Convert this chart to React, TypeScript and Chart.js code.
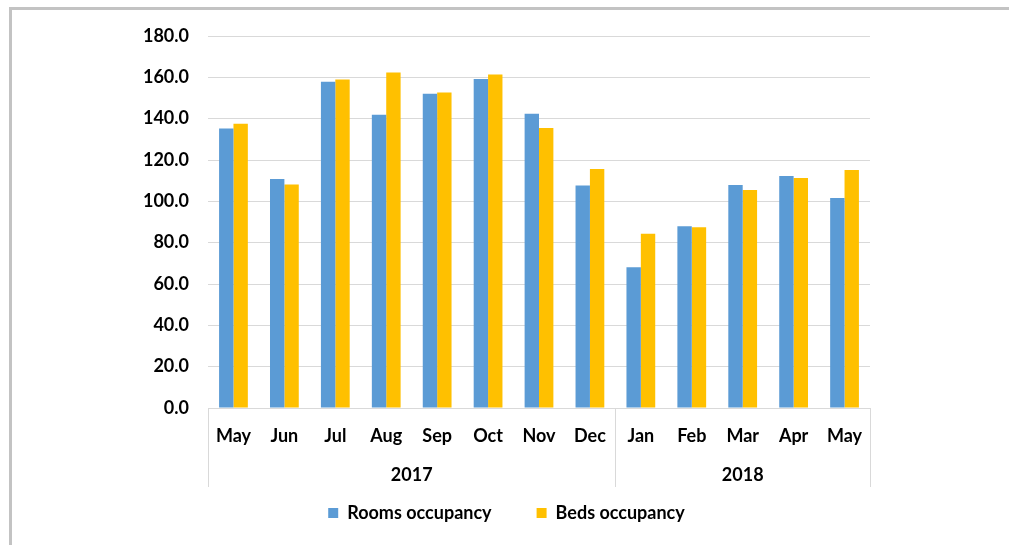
import React, { useEffect, useRef } from "react";
import { Chart, registerables } from "chart.js";

Chart.register(...registerables);

const months = ["May", "Jun", "Jul", "Aug", "Sep", "Oct", "Nov", "Dec", "Jan", "Feb", "Mar", "Apr", "May"];
const years = ["2017", "2018"];
const yearSpans = [8, 5];
const roomsOccupancy = [135.3, 110.8, 157.9, 141.9, 152.1, 159.2, 142.4, 107.7, 68.1, 87.9, 107.9, 112.3, 101.6];
const bedsOccupancy = [137.6, 108.1, 158.9, 162.3, 152.7, 161.4, 135.5, 115.6, 84.3, 87.4, 105.5, 111.3, 115.2];
const seriesNames = ["Rooms occupancy", "Beds occupancy"];

const FONT_FAMILY = "Lato, 'Open Sans', sans-serif";
const FONT_SIZE = 18;
const GRID_COLOR = "#d9d9d9";

const PAD_LEFT = 4;
const PLOT_LEFT = 208;
const PLOT_RIGHT = 870;
const CANVAS_W = 1009;
const CANVAS_H = 545;

const yearGroupPlugin = {
  id: "yearGroups",
  afterDraw(chart: any) {
    const xs = chart.scales.x;
    const area = chart.chartArea;
    const ctx = chart.ctx;
    const bottom = area.bottom;
    const half = (xs.getPixelForValue(1) - xs.getPixelForValue(0)) / 2;
    ctx.save();
    ctx.strokeStyle = GRID_COLOR;
    ctx.lineWidth = 1;
    let start = 0;
    const bounds: number[] = [xs.left];
    yearSpans.forEach((span) => {
      const end = start + span - 1;
      const right = end === months.length - 1 ? xs.right : xs.getPixelForValue(end) + half;
      bounds.push(right);
      start += span;
    });
    bounds.forEach((bx) => {
      const px = Math.round(bx) + 0.5;
      ctx.beginPath();
      ctx.moveTo(px, bottom);
      ctx.lineTo(px, bottom + 79);
      ctx.stroke();
    });
    ctx.fillStyle = "#000";
    ctx.font = `bold ${FONT_SIZE}px ${FONT_FAMILY}`;
    ctx.textAlign = "center";
    ctx.textBaseline = "middle";
    years.forEach((yr, i) => {
      const cx = (bounds[i] + bounds[i + 1]) / 2;
      ctx.fillText(yr, cx, bottom + 67);
    });
    ctx.restore();
  },
};

export default function App() {
  const canvasRef = useRef<HTMLCanvasElement | null>(null);

  useEffect(() => {
    const canvas = canvasRef.current;
    if (!canvas) return;
    const chart = new Chart(canvas, {
      type: "bar",
      data: {
        labels: months,
        datasets: [
          {
            label: seriesNames[0],
            data: roomsOccupancy,
            backgroundColor: "#5B9BD5",
            borderWidth: 0,
            categoryPercentage: 0.565,
            barPercentage: 1.0,
          },
          {
            label: seriesNames[1],
            data: bedsOccupancy,
            backgroundColor: "#FFC000",
            borderWidth: 0,
            categoryPercentage: 0.565,
            barPercentage: 1.0,
          },
        ],
      },
      options: {
        responsive: false,
        animation: false,
        devicePixelRatio: 1,
        layout: {
          padding: { left: PAD_LEFT, right: 0, top: 36, bottom: 13 },
        },
        font: { family: FONT_FAMILY },
        plugins: {
          tooltip: { enabled: false },
          legend: {
            position: "bottom",
            labels: {
              boxWidth: 10,
              boxHeight: 10,
              padding: 45,
              color: "#000",
              font: { family: FONT_FAMILY, size: FONT_SIZE, weight: "bold" },
            },
          },
        },
        scales: {
          x: {
            grid: { display: false, drawTicks: false },
            border: { display: true, color: GRID_COLOR, width: 1 },
            ticks: {
              autoSkip: false,
              maxRotation: 0,
              padding: 17,
              color: "#000",
              font: { family: FONT_FAMILY, size: FONT_SIZE, weight: "bold" },
            },
            afterFit: (scale: any) => {
              scale.height = 51;
            },
          },
          y: {
            min: 0,
            max: 180,
            grid: { color: GRID_COLOR, drawTicks: false, lineWidth: 1 },
            border: { display: false },
            ticks: {
              stepSize: 20,
              padding: 19,
              color: "#000",
              font: { family: FONT_FAMILY, size: FONT_SIZE, weight: "bold" },
              callback: (v: any) => Number(v).toFixed(1),
            },
            afterFit: (scale: any) => {
              scale.width = PLOT_LEFT - PAD_LEFT;
            },
          },
          yRightSpace: {
            position: "right",
            display: true,
            grid: { display: false, drawTicks: false },
            border: { display: false },
            ticks: { display: false },
            afterFit: (scale: any) => {
              scale.width = CANVAS_W - PLOT_RIGHT;
            },
          },
        },
      },
      plugins: [yearGroupPlugin],
    });
    return () => chart.destroy();
  }, []);

  return (
    <div
      style={{
        position: "fixed",
        left: 0,
        top: 0,
        width: CANVAS_W,
        height: CANVAS_H,
        background: "#fff",
        overflow: "hidden",
      }}
    >
      <div
        style={{
          position: "absolute",
          left: 9,
          top: 7,
          width: 1100,
          height: 600,
          borderLeft: "3px solid #c3c3c3",
          borderTop: "3px solid #c3c3c3",
        }}
      />
      <canvas
        ref={canvasRef}
        width={CANVAS_W}
        height={CANVAS_H}
        style={{ position: "absolute", left: 0, top: 0, width: CANVAS_W, height: CANVAS_H }}
      />
    </div>
  );
}
